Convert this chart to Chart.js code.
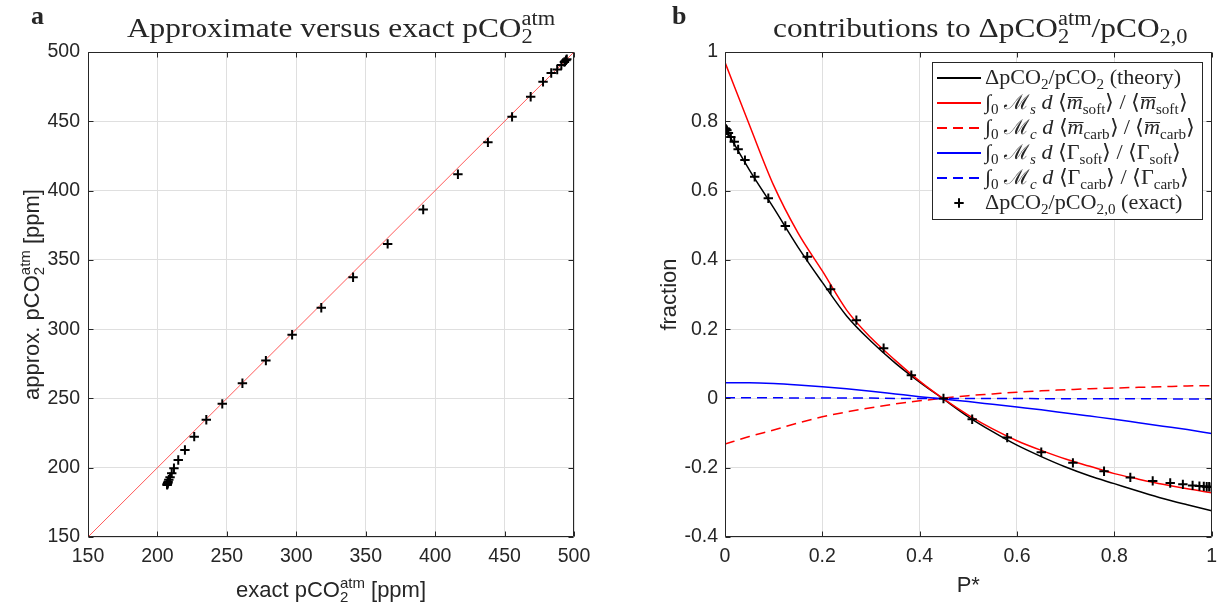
<!DOCTYPE html>
<html lang="en">
<head>
<meta charset="utf-8">
<title>Approximate versus exact pCO2</title>
<script src="https://cdn.jsdelivr.net/npm/chart.js@4"></script>
<style>
  html, body { margin: 0; padding: 0; background: #fff; }
  body { width: 1225px; height: 613px; position: relative; overflow: hidden; }
  canvas { position: absolute; top: 0; }
</style>
</head>
<body>
<canvas id="chartA" width="612" height="613" style="left:0"></canvas>
<canvas id="chartB" width="613" height="613" style="left:612px"></canvas>

<script>
// panel a: approximate vs exact pCO2 (ppm)
const exactPCO2 = [494.8, 494.2, 493.1, 490.9, 487.9, 483.6, 477.7, 468.8, 455.4, 438.0, 416.4, 391.4, 365.8, 340.9, 318.0, 297.0,
                   278.1, 261.2, 246.7, 235.2, 226.5, 219.8, 215.0, 211.9, 210.3, 209.1, 208.2, 207.7, 207.4, 207.2, 207.1, 207.0];
const approxPCO2 = [494.8, 494.0, 492.8, 490.6, 487.3, 484.8, 478.5, 467.7, 453.2, 434.8, 411.8, 386.3, 361.5, 337.5, 315.4, 295.9,
                    277.3, 261.0, 246.1, 234.6, 222.4, 212.8, 205.6, 199.6, 196.0, 193.2, 191.3, 189.9, 189.0, 188.5, 188.1, 187.6];
const oneToOne = [150, 500];
const ticksA = [150, 200, 250, 300, 350, 400, 450, 500];

// panel b: contributions vs P*
const pStar = [0, 0.002, 0.004, 0.007, 0.012, 0.019, 0.027, 0.041, 0.061, 0.089, 0.124, 0.169, 0.217, 0.270, 0.326, 0.383,
               0.449, 0.508, 0.580, 0.650, 0.715, 0.779, 0.833, 0.879, 0.915, 0.941, 0.961, 0.975, 0.984, 0.990, 0.995, 1.0];
const deltaExact = [0.780, 0.778, 0.774, 0.766, 0.755, 0.741, 0.719, 0.688, 0.640, 0.578, 0.498, 0.409, 0.315, 0.226, 0.145, 0.067,
                    0.000, -0.060, -0.113, -0.155, -0.186, -0.210, -0.228, -0.238, -0.244, -0.248, -0.251, -0.253, -0.254, -0.255, -0.255, -0.256];

const pGrid = [0, 0.05, 0.1, 0.15, 0.2, 0.25, 0.3, 0.35, 0.4, 0.45, 0.5, 0.55, 0.6, 0.65, 0.7, 0.75, 0.8, 0.85, 0.9, 0.95, 1];
const theory    = [0.780, 0.660, 0.550, 0.437, 0.335, 0.238, 0.165, 0.102, 0.047, -0.003, -0.053, -0.096, -0.135, -0.168, -0.198, -0.224, -0.246, -0.268, -0.289, -0.307, -0.324];
const softMean  = [0.970, 0.790, 0.615, 0.478, 0.368, 0.255, 0.175, 0.110, 0.050, -0.002, -0.048, -0.088, -0.122, -0.150, -0.175, -0.196, -0.217, -0.233, -0.248, -0.261, -0.272];
const carbMean  = [-0.132, -0.110, -0.091, -0.071, -0.053, -0.039, -0.027, -0.016, -0.007, 0.001, 0.008, 0.013, 0.018, 0.022, 0.025, 0.028, 0.030, 0.032, 0.034, 0.036, 0.037];
const softGamma = [0.045, 0.045, 0.043, 0.039, 0.034, 0.028, 0.021, 0.013, 0.005, -0.002, -0.009, -0.017, -0.025, -0.033, -0.042, -0.051, -0.060, -0.070, -0.080, -0.090, -0.101];
const carbGamma = [0.002, 0.002, 0.002, 0.001, 0.001, 0.001, 0.001, 0.000, 0.000, 0.000, 0.000, 0.000, 0.000, -0.001, -0.001, -0.001, -0.001, -0.001, -0.001, -0.002, -0.002];
const ticksBx = [0, 0.2, 0.4, 0.6, 0.8, 1];
const ticksBy = [-0.4, -0.2, 0, 0.2, 0.4, 0.6, 0.8, 1];

const INK = '#262626';
const GRID = '#dfdfdf';
const SERIF = '"Liberation Serif", "Times New Roman", serif';
const SANS = '"Liberation Sans", Arial, Helvetica, sans-serif';
const DASH = [10, 6];

// little text renderer for sub/superscripts (TeX-ish labels)
function rich(ctx, parts, x, y, o) {
  const s = o.size, sm = Math.round(s * 0.7);
  const fnt = (sz, it) => (it ? 'italic ' : '') + (o.bold ? 'bold ' : '') + sz + 'px ' + o.family;
  const ops = [];
  let w = 0;
  parts.forEach(p => {
    const q = typeof p === 'string' ? { t: p } : p;
    if (q.t) {
      ctx.font = fnt(s, q.it);
      const tw = ctx.measureText(q.t).width;
      ops.push({ t: q.t, f: ctx.font, x: w, y: 0, bar: q.bar ? tw : 0 });
      w += tw;
    }
    let ww = 0;
    if (q.sub) {
      ctx.font = fnt(sm, q.subIt);
      ops.push({ t: q.sub, f: ctx.font, x: w, y: s * 0.22 });
      ww = ctx.measureText(q.sub).width;
    }
    if (q.sup) {
      ctx.font = fnt(sm);
      ops.push({ t: q.sup, f: ctx.font, x: w, y: -s * 0.42 });
      ww = Math.max(ww, ctx.measureText(q.sup).width);
    }
    w += ww;
  });
  const k = o.stretch || 1;
  const x0 = o.align === 'center' ? x - w * k / 2 : x;
  ctx.save();
  ctx.translate(x0, y);
  ctx.scale(k, 1);
  ctx.fillStyle = INK;
  ctx.strokeStyle = INK;
  ctx.textAlign = 'left';
  ctx.textBaseline = 'alphabetic';
  ops.forEach(op => {
    ctx.font = op.f;
    ctx.fillText(op.t, op.x, op.y);
    if (op.bar) {
      ctx.lineWidth = 1;
      ctx.beginPath();
      ctx.moveTo(op.x + 1, -s * 0.56);
      ctx.lineTo(op.x + op.bar, -s * 0.56);
      ctx.stroke();
    }
  });
  ctx.restore();
}

function axis(ticks, min, max, fitWidth, pad, fmt) {
  return {
    type: 'linear', min: min, max: max,
    afterBuildTicks: s => { s.ticks = ticks.map(v => ({ value: v })); },
    afterFit: s => { if (s.isHorizontal()) s.height = 40; else s.width = fitWidth; },
    grid: { color: GRID, drawTicks: false },
    border: { display: false },
    ticks: { color: INK, font: { family: SANS, size: 19.5 }, padding: pad, callback: fmt || (v => v) }
  };
}

// box round the axes with inward ticks, then texts on top
function decor(drawTexts) {
  return {
    id: 'decor',
    afterDatasetsDraw(chart) {
      const { ctx, chartArea: a, scales: { x, y } } = chart;
      const L = Math.round(a.left) + 0.5, R = Math.round(a.right) - 0.5;
      const T = Math.round(a.top) + 0.5, B = Math.round(a.bottom) - 0.5;
      ctx.save();
      ctx.strokeStyle = INK;
      ctx.lineWidth = 1;
      ctx.beginPath();
      ctx.rect(L, T, R - L, B - T);
      x.ticks.forEach(t => {
        const px = Math.round(x.getPixelForValue(t.value)) + 0.5;
        ctx.moveTo(px, B); ctx.lineTo(px, B - 5);
        ctx.moveTo(px, T); ctx.lineTo(px, T + 5);
      });
      y.ticks.forEach(t => {
        const py = Math.round(y.getPixelForValue(t.value)) + 0.5;
        ctx.moveTo(L, py); ctx.lineTo(L + 5, py);
        ctx.moveTo(R, py); ctx.lineTo(R - 5, py);
      });
      ctx.stroke();
      ctx.restore();
    },
    afterDraw(chart) { drawTexts(chart.ctx, chart); }
  };
}

const base = {
  responsive: false,
  animation: false,
  events: [],
  plugins: { legend: { display: false }, tooltip: { enabled: false } }
};

// ---------- panel a ----------
new Chart(document.getElementById('chartA'), {
  type: 'scatter',
  data: {
    datasets: [
      {
        data: exactPCO2.map((v, i) => ({ x: v, y: approxPCO2[i] })),
        pointStyle: 'cross', pointRadius: 4.7, pointBorderWidth: 2,
        borderColor: '#000', backgroundColor: '#000'
      },
      {
        data: oneToOne.map(v => ({ x: v, y: v })),
        showLine: true, borderColor: '#ff5a5a', borderWidth: 1, pointRadius: 0
      }
    ]
  },
  options: Object.assign({}, base, {
    layout: { padding: { top: 52, right: 38, bottom: 36, left: 0 } },
    scales: {
      x: axis(ticksA, 150, 500, 0, 8),
      y: axis(ticksA, 150, 500, 88, 8)
    }
  }),
  plugins: [decor((ctx, chart) => {
    const a = chart.chartArea;
    const cx = (a.left + a.right) / 2;
    rich(ctx, ['a'], 31, 24, { size: 26, family: SERIF, bold: true });
    rich(ctx, ['Approximate versus exact pCO', { sub: '2', sup: 'atm' }], cx + 10, 37,
         { size: 28, family: SERIF, align: 'center', stretch: 1.12 });
    rich(ctx, ['exact pCO', { sub: '2', sup: 'atm' }, ' [ppm]'], cx, 597,
         { size: 22, family: SANS, align: 'center' });
    ctx.save();
    ctx.translate(39, (a.top + a.bottom) / 2);
    ctx.rotate(-Math.PI / 2);
    rich(ctx, ['approx. pCO', { sub: '2', sup: 'atm' }, ' [ppm]'], 0, 0,
         { size: 22, family: SANS, align: 'center' });
    ctx.restore();
  })]
});

// ---------- panel b ----------
const curve = vals => pGrid.map((p, i) => ({ x: p, y: vals[i] }));
const lineSet = (vals, color, dash) => ({
  data: curve(vals), showLine: true, pointRadius: 0, borderWidth: 1.5,
  borderColor: color, borderDash: dash || [], cubicInterpolationMode: 'monotone'
});

const legendRows = [
  { color: '#000', dash: null, parts: ['ΔpCO', { sub: '2' }, '/pCO', { sub: '2' }, ' (theory)'] },
  { color: '#ff0000', dash: null, parts: ['∫', { sub: '0' }, ' ℳ', { sub: 's', subIt: true }, ' ', { t: 'd', it: true }, ' ⟨', { t: 'm', it: true, bar: true }, { sub: 'soft' }, '⟩ / ⟨', { t: 'm', it: true, bar: true }, { sub: 'soft' }, '⟩'] },
  { color: '#ff0000', dash: DASH, parts: ['∫', { sub: '0' }, ' ℳ', { sub: 'c', subIt: true }, ' ', { t: 'd', it: true }, ' ⟨', { t: 'm', it: true, bar: true }, { sub: 'carb' }, '⟩ / ⟨', { t: 'm', it: true, bar: true }, { sub: 'carb' }, '⟩'] },
  { color: '#0000ff', dash: null, parts: ['∫', { sub: '0' }, ' ℳ', { sub: 's', subIt: true }, ' ', { t: 'd', it: true }, ' ⟨Γ', { sub: 'soft' }, '⟩ / ⟨Γ', { sub: 'soft' }, '⟩'] },
  { color: '#0000ff', dash: DASH, parts: ['∫', { sub: '0' }, ' ℳ', { sub: 'c', subIt: true }, ' ', { t: 'd', it: true }, ' ⟨Γ', { sub: 'carb' }, '⟩ / ⟨Γ', { sub: 'carb' }, '⟩'] },
  { color: '#000', cross: true, parts: ['ΔpCO', { sub: '2' }, '/pCO', { sub: '2,0' }, ' (exact)'] }
];

new Chart(document.getElementById('chartB'), {
  type: 'scatter',
  data: {
    datasets: [
      {
        data: pStar.map((p, i) => ({ x: p, y: deltaExact[i] })),
        pointStyle: 'cross', pointRadius: 4.7, pointBorderWidth: 2,
        borderColor: '#000', backgroundColor: '#000'
      },
      lineSet(carbGamma, '#0000ff', DASH),
      lineSet(softGamma, '#0000ff'),
      lineSet(carbMean, '#ff0000', DASH),
      lineSet(softMean, '#ff0000'),
      lineSet(theory, '#000')
    ]
  },
  options: Object.assign({}, base, {
    layout: { padding: { top: 52, right: 12, bottom: 36, left: 0 } },
    scales: {
      x: axis(ticksBx, 0, 1, 0, 8, v => String(Math.round(v * 10) / 10)),
      y: axis(ticksBy, -0.4, 1, 113, 7, v => String(Math.round(v * 10) / 10))
    }
  }),
  plugins: [decor((ctx, chart) => {
    const a = chart.chartArea;
    const cx = (a.left + a.right) / 2;
    rich(ctx, ['b'], 60, 24, { size: 26, family: SERIF, bold: true });
    rich(ctx, ['contributions to ΔpCO', { sub: '2', sup: 'atm' }, '/pCO', { sub: '2,0' }], cx + 12, 37,
         { size: 28, family: SERIF, align: 'center', stretch: 1.12 });
    rich(ctx, ['P*'], cx, 592, { size: 22, family: SANS, align: 'center' });
    ctx.save();
    ctx.translate(64, (a.top + a.bottom) / 2);
    ctx.rotate(-Math.PI / 2);
    rich(ctx, ['fraction'], 0, 0, { size: 22, family: SANS, align: 'center' });
    ctx.restore();

    // legend box
    const lx = 320, ly = 62, lw = 270, lh = 157;
    ctx.save();
    ctx.fillStyle = '#fff';
    ctx.fillRect(lx, ly, lw, lh);
    ctx.strokeStyle = INK;
    ctx.lineWidth = 1;
    ctx.strokeRect(lx + 0.5, ly + 0.5, lw, lh);
    legendRows.forEach((r, i) => {
      const ry = ly + 16 + i * 25;
      ctx.strokeStyle = r.color;
      if (r.cross) {
        ctx.lineWidth = 2;
        ctx.beginPath();
        ctx.moveTo(347 - 4.7, ry); ctx.lineTo(347 + 4.7, ry);
        ctx.moveTo(347, ry - 4.7); ctx.lineTo(347, ry + 4.7);
        ctx.stroke();
      } else {
        ctx.lineWidth = 2;
        ctx.setLineDash(r.dash || []);
        ctx.beginPath();
        ctx.moveTo(325, ry); ctx.lineTo(369, ry);
        ctx.stroke();
        ctx.setLineDash([]);
      }
      rich(ctx, r.parts, 373, ry + 6, { size: 20.5, family: SERIF, stretch: 1.08 });
    });
    ctx.restore();
  })]
});
</script>
</body>
</html>
